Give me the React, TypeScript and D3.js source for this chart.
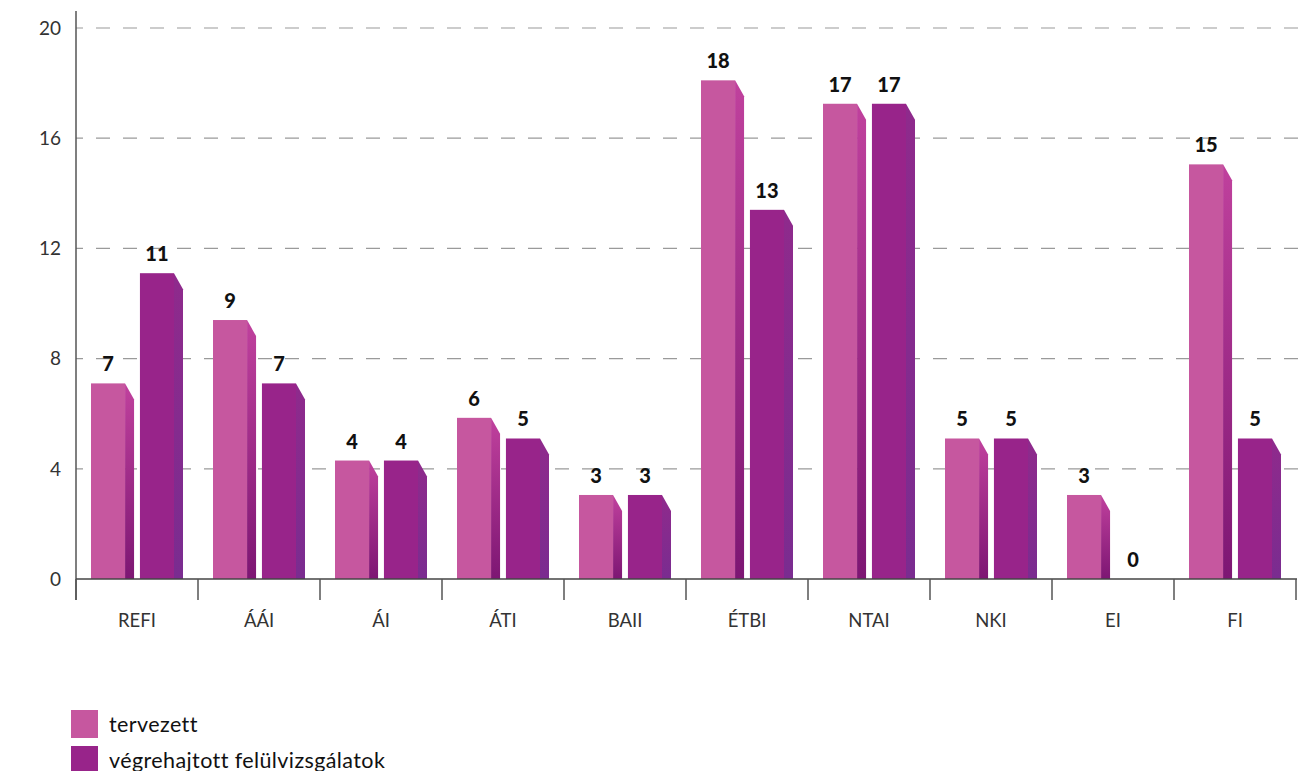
import * as d3 from "d3";

const WIDTH = 1303;
const HEIGHT = 771;

const categories = ["REFI", "ÁÁI", "ÁI", "ÁTI", "BAII", "ÉTBI", "NTAI", "NKI", "EI", "FI"];
// bar heights; labels are the rounded values
const planned = [7.1, 9.4, 4.3, 5.85, 3.05, 18.1, 17.25, 5.1, 3.05, 15.05];
const performed = [11.1, 7.1, 4.3, 5.1, 3.05, 13.4, 17.25, 5.1, 0, 5.1];
const yTicks = [0, 4, 8, 12, 16, 20];
const seriesNames = ["tervezett", "végrehajtott felülvizsgálatok"];

const FONT = "Lato, 'Open Sans', sans-serif";
const SIDE_W = 9;
const SIDE_DROP = 16;

const series = [
  { key: "planned", values: planned, front: "#c6579f", sideTop: "#c0419d", sideBottom: "#7d1673" },
  { key: "performed", values: performed, front: "#98248a", sideTop: "#8f2a8c", sideBottom: "#7a2c90" },
];

export default function App() {
  const x = d3.scaleBand<string>().domain(categories).range([76, 1296]);
  const xSub = d3
    .scaleBand<string>()
    .domain(series.map((s) => s.key))
    .range([15, 107])
    .paddingInner(0.12);
  const y = d3.scaleLinear().domain([0, 20]).range([579, 28]);
  const base = y(0);
  const frontW = xSub.bandwidth() - SIDE_W;
  const boundaries = categories.map((c) => x(c) as number).concat([x.range()[1]]);

  return (
    <div style={{ position: "absolute", left: 0, top: 0 }}>
      <svg width={WIDTH} height={HEIGHT} style={{ display: "block", background: "#fff" }}>
        <defs>
          {series.map((s) => (
            <linearGradient key={s.key} id={`side-${s.key}`} x1="0" y1="0" x2="0" y2="1">
              <stop offset="0%" stopColor={s.sideTop} />
              <stop offset="100%" stopColor={s.sideBottom} />
            </linearGradient>
          ))}
        </defs>

        {/* grid */}
        {yTicks
          .filter((t) => t > 0)
          .map((t) => (
            <line
              key={t}
              x1={76}
              x2={WIDTH}
              y1={y(t)}
              y2={y(t)}
              stroke="#9a9a9a"
              strokeWidth={1.2}
              strokeDasharray="14 13"
              strokeDashoffset={7}
            />
          ))}

        {/* y tick labels */}
        {yTicks.map((t) => (
          <text
            key={t}
            x={61}
            y={y(t)}
            dy="0.36em"
            textAnchor="end"
            fontFamily={FONT}
            fontSize={19}
            fill="#333"
          >
            {t}
          </text>
        ))}

        {/* bars */}
        {categories.map((c, i) => (
          <g key={c} transform={`translate(${x(c)},0)`}>
            {series.map((s) => {
              const v = s.values[i];
              const x0 = xSub(s.key) as number;
              const top = y(v);
              return (
                <g key={s.key}>
                  {v > 0 && (
                    <>
                      <rect x={x0} y={top} width={frontW} height={base - top} fill={s.front} />
                      <polygon
                        points={`${x0 + frontW},${top} ${x0 + frontW + SIDE_W},${Math.min(top + SIDE_DROP, base)} ${x0 + frontW + SIDE_W},${base} ${x0 + frontW},${base}`}
                        fill={`url(#side-${s.key})`}
                      />
                    </>
                  )}
                  <text
                    x={x0 + frontW / 2}
                    y={top - 12}
                    textAnchor="middle"
                    fontFamily={FONT}
                    fontWeight={900}
                    fontSize={20}
                    fill="#111"
                  >
                    {Math.round(v)}
                  </text>
                </g>
              );
            })}
          </g>
        ))}

        {/* axes */}
        <line x1={76} x2={76} y1={11} y2={600} stroke="#555" strokeWidth={1.5} />
        <line x1={76} x2={1297} y1={base} y2={base} stroke="#444" strokeWidth={1.5} />
        {boundaries.map((bx, i) => (
          <line key={i} x1={bx} x2={bx} y1={base} y2={600} stroke="#555" strokeWidth={1.5} />
        ))}
        {categories.map((c) => (
          <text
            key={c}
            x={(x(c) as number) + x.bandwidth() / 2}
            y={627}
            textAnchor="middle"
            fontFamily={FONT}
            fontSize={18.5}
            fill="#333"
          >
            {c}
          </text>
        ))}

        {/* legend */}
        {seriesNames.map((name, i) => (
          <g key={name} transform={`translate(71,${710 + i * 36})`}>
            <rect width={27} height={28} fill={series[i].front} />
            <text
              x={38}
              y={14}
              dy="0.36em"
              fontFamily={FONT}
              fontSize={21.5}
              letterSpacing={0.4}
              fill="#111"
            >
              {name}
            </text>
          </g>
        ))}
      </svg>
    </div>
  );
}
